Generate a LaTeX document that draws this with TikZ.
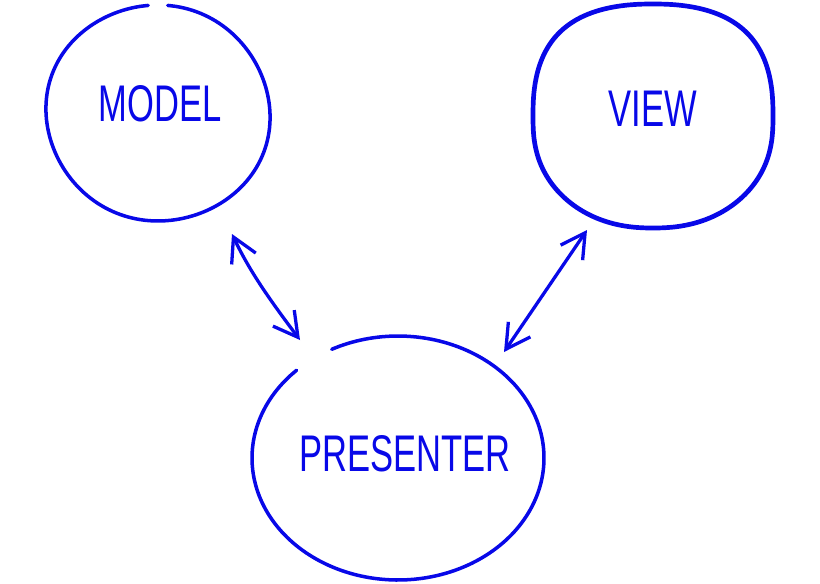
\documentclass[tikz,border=0pt]{standalone}
\usepackage{fontspec}
\setmainfont{Liberation Sans}
\usetikzlibrary{arrows.meta}
\definecolor{ink}{RGB}{8,8,232}

\begin{document}
\begin{tikzpicture}[
    x=0.03cm, y=-0.03cm,
    color=ink,
    every node/.style={text=ink},
    label/.style={font=\fontsize{44}{44}\selectfont, xscale=0.67, inner sep=0pt},
    outline/.style={line width=3pt, line cap=round, line join=round},
    biarrow/.style={line width=2.8pt, line cap=round,
        arrows={Straight Barb[length=0.72cm,width=0.8cm]-Straight Barb[length=0.72cm,width=0.8cm]}}
]

    % --- canvas ---
    \fill[white] (0,0) rectangle (820,583);
    \useasboundingbox (0,0) rectangle (820,583);

    % --- MODEL (top left), open at the top ---
    \draw[outline] plot[domain=-85:265, samples=80, smooth]
        ({158+112*cos(\x)*(1+0.02*sin(2*\x))}, {113+108*sin(\x)});
    \node[label] (model) at (160,104) {MODEL};

    % --- VIEW (top right), slightly squarish ---
    \draw[outline, line width=4pt] plot[domain=0:360, samples=120, smooth cycle]
        ({653+120*sign(cos(\x))*abs(cos(\x))^0.88}, {116+112*sign(sin(\x))*abs(sin(\x))^(0.8+0.15*sin(\x))});
    \node[label] (view) at (653,109) {VIEW};

    % --- PRESENTER (bottom), open at upper left ---
    \draw[outline] plot[domain=-117:226, samples=100, smooth]
        ({398+146*cos(\x)}, {458+122*sin(\x)});
    \node[label] (presenter) at (405,454) {PRESENTER};

    % --- connectors ---
    \coordinate (modelEnd) at (232,234);
    \coordinate (presLeft) at (300,340);
    \coordinate (viewEnd) at (587,230);
    \coordinate (presRight) at (504,352);

    \draw[biarrow] (modelEnd) .. controls (250,272) and (270,300) .. (presLeft);
    \draw[biarrow] (viewEnd) -- (presRight);

\end{tikzpicture}
\end{document}
